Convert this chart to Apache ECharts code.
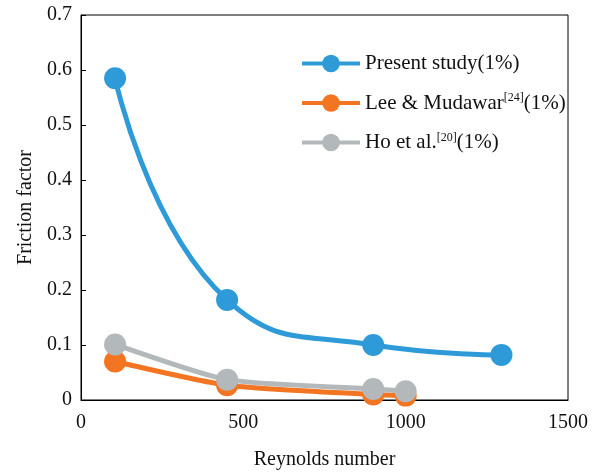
<!DOCTYPE html>
<html><head><meta charset="utf-8">
<script src="https://cdn.jsdelivr.net/npm/echarts@6/dist/echarts.min.js"></script>
<style>html,body{margin:0;padding:0;background:#fff}#c{width:595px;height:472px}</style>
</head><body><div id="c"></div>
<script>
var presentX = [105, 450, 900, 1295];
var presentY = [0.585, 0.182, 0.1, 0.082];
var leeX = [105, 450, 900, 1000];
var leeY = [0.07, 0.027, 0.01, 0.008];
var hoX = [105, 450, 900, 1000];
var hoY = [0.101, 0.037, 0.02, 0.016];
var xTicks = [0, 500, 1000, 1500];
var yTicks = [0, 0.1, 0.2, 0.3, 0.4, 0.5, 0.6, 0.7];

function pairs(xs, ys){ return xs.map(function(x,i){return [x, ys[i]];}); }
var font = '"Liberation Serif", "DejaVu Serif", serif';
var chart = echarts.init(document.getElementById('c'));
chart.setOption({
  animation:false,
  backgroundColor:'#fff',
  grid:{left:81,right:27,top:15,bottom:72,show:true,borderColor:'#000',borderWidth:1,
    containLabel:false,outerBoundsMode:'none'},
  xAxis:{type:'value',min:xTicks[0],max:xTicks[xTicks.length-1],interval:500,
    name:'Reynolds number',nameLocation:'middle',nameGap:50,
    nameTextStyle:{fontFamily:font,fontSize:20,color:'#111'},
    axisLine:{lineStyle:{color:'#000'}},axisTick:{show:false},
    axisLabel:{fontFamily:font,fontSize:20,color:'#111',margin:13,formatter:function(v){return String(v);}},
    splitLine:{show:false}},
  yAxis:{type:'value',min:yTicks[0],max:yTicks[yTicks.length-1],interval:0.1,
    name:'Friction factor',nameLocation:'middle',nameGap:45,
    nameTextStyle:{fontFamily:font,fontSize:20,color:'#111'},
    axisLine:{show:true,lineStyle:{color:'#000'}},
    axisTick:{show:true,inside:true,length:5,lineStyle:{color:'#000'}},
    axisLabel:{fontFamily:font,fontSize:20,color:'#111',margin:9},
    splitLine:{show:false}},
  legend:{orient:'vertical',left:295,top:48,itemGap:18,itemWidth:58,itemHeight:22,
    lineStyle:{width:4},
    textStyle:{fontFamily:font,fontSize:21,color:'#111',
      rich:{t:{fontFamily:font,fontSize:21,color:'#111'},
            s:{fontFamily:font,fontSize:12,color:'#111',verticalAlign:'top',padding:[0,0,10,0]}}},
    formatter:function(n){
      if(n==='Lee & Mudawar[24](1%)') return '{t|Lee & Mudawar}{s|[24]}{t|(1%)}';
      if(n==='Ho et al.[20](1%)') return '{t|Ho et al.}{s|[20]}{t|(1%)}';
      return '{t|'+n+'}';
    },
    data:['Present study(1%)','Lee & Mudawar[24](1%)','Ho et al.[20](1%)']},
  series:[
    {name:'Ho et al.[20](1%)',type:'line',data:pairs(hoX,hoY),smooth:0.2,symbol:'circle',symbolSize:22,
      lineStyle:{width:5,color:'#b3b8ba'},itemStyle:{color:'#b3b8ba'},z:2},
    {name:'Lee & Mudawar[24](1%)',type:'line',data:pairs(leeX,leeY),smooth:0.2,symbol:'circle',symbolSize:22,
      lineStyle:{width:5,color:'#f37521'},itemStyle:{color:'#f37521'},z:1},
    {name:'Present study(1%)',type:'line',data:pairs(presentX,presentY),smooth:0.5,symbol:'circle',symbolSize:22,
      lineStyle:{width:5,color:'#2e9bd8'},itemStyle:{color:'#2e9bd8'},z:3}
  ]
});
</script></body></html>
